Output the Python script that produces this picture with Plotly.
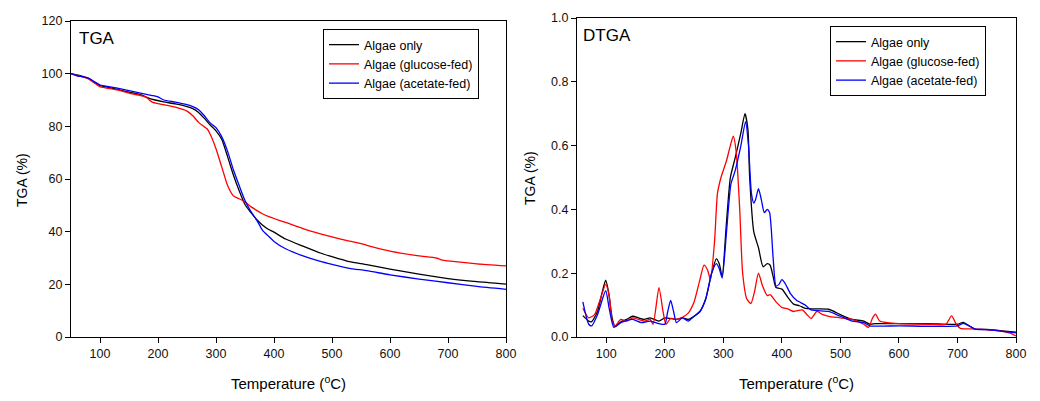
import plotly.graph_objects as go

# ---------------- TGA data ----------------
tga_T_black = [50, 60, 70, 80, 90, 100, 110, 130, 150, 170, 185, 195, 210, 230, 250, 260, 270, 280, 290, 300,
               310, 320, 330, 340, 350, 360, 370, 380, 390, 400, 420, 450, 480, 500, 530, 560, 600, 650, 700, 750, 800]
tga_black = [100, 99.5, 99, 98.2, 96.8, 95.5, 95, 94, 93, 92, 90.6, 90, 89.3, 88.5, 87.5, 86.7, 85.3, 83, 80.5, 78.3,
             75, 68.5, 61.5, 55.5, 50.3, 47.3, 44.6, 42.5, 40.9, 39.8, 37.2, 34.5, 31.9, 30.5, 28.6, 27.5, 25.8, 23.9, 22.2, 21, 20.1]

tga_T_red = [50, 60, 70, 80, 90, 100, 110, 130, 150, 170, 180, 185, 190, 200, 210, 230, 250, 260, 270, 280, 285, 290,
             300, 310, 320, 330, 340, 350, 360, 370, 380, 390, 400, 420, 450, 480, 500, 530, 550, 560, 600, 650, 680,
             690, 700, 750, 800]
tga_red = [100, 99.3, 98.8, 98, 96.5, 95, 94.6, 93.8, 92.6, 91.7, 91, 90, 89.2, 88.6, 88.2, 87.3, 85.8, 84, 81.5, 79.8, 79, 77,
           71.5, 64.5, 57.5, 53.6, 52.5, 51.3, 49.5, 48.1, 46.8, 45.8, 45, 43.5, 41.2, 39.2, 38, 36.4, 35.5, 34.8, 32.6, 30.8, 30,
           29.2, 28.9, 27.8, 27]

tga_T_blue = [50, 60, 70, 80, 90, 100, 110, 130, 150, 170, 190, 200, 210, 230, 250, 260, 270, 280, 290, 300,
              310, 320, 330, 340, 350, 360, 370, 380, 390, 400, 420, 450, 480, 500, 530, 560, 600, 650, 700, 750, 800]
tga_blue = [100, 99.2, 98.8, 98.3, 97, 95.7, 95.3, 94.5, 93.6, 92.6, 91.7, 91.2, 90, 89.2, 88.2, 87.5, 86.3, 84, 81.3, 79.5,
            76, 70.5, 63.5, 57.5, 51.8, 47.7, 44.5, 40.6, 38.4, 36.3, 33.5, 30.8, 28.7, 27.6, 26.1, 25.2, 23.6, 22, 20.6, 19.2, 18.1]

# ---------------- DTGA data ----------------
dtga_T_black = [60, 70, 75, 85, 93, 99, 104, 110, 115, 125, 135, 145, 155, 165, 175, 190, 200, 220, 230, 240, 250, 260,
                270, 280, 288, 293, 298, 305, 312, 320, 330, 337, 342, 345, 352, 360, 368, 375, 380, 385, 390, 400,
                410, 420, 430, 440, 450, 480, 500, 520, 540, 550, 560, 600, 650, 700, 710, 720, 730, 750, 800]
dtga_black = [0.067, 0.05, 0.048, 0.08, 0.14, 0.178, 0.14, 0.06, 0.033, 0.048, 0.055, 0.065, 0.06, 0.055, 0.06, 0.05, 0.06,
              0.055, 0.06, 0.055, 0.065, 0.08, 0.12, 0.2, 0.245, 0.23, 0.19, 0.35, 0.5, 0.56, 0.64, 0.7, 0.65, 0.5, 0.33,
              0.28, 0.22, 0.23, 0.225, 0.19, 0.155, 0.15, 0.125, 0.103, 0.098, 0.09, 0.088, 0.087, 0.07, 0.055, 0.05,
              0.04, 0.042, 0.042, 0.042, 0.04, 0.046, 0.035, 0.025, 0.024, 0.015]

dtga_T_red = [60, 70, 80, 90, 99, 105, 110, 115, 125, 135, 145, 155, 165, 175, 180, 190, 197, 202, 210, 220, 230, 240,
              250, 260, 267, 273, 278, 285, 290, 296, 305, 312, 317, 322, 328, 333, 340, 347, 353, 360, 367, 375, 380,
              390, 400, 410, 420, 435, 443, 450, 460, 470, 480, 500, 520, 540, 548, 555, 560, 567, 580, 600, 650, 680,
              690, 698, 705, 730, 770, 790, 800]
dtga_red = [0.09, 0.06, 0.07, 0.12, 0.165, 0.13, 0.05, 0.035, 0.055, 0.05, 0.06, 0.055, 0.05, 0.055, 0.04, 0.155, 0.08,
            0.04, 0.058, 0.055, 0.062, 0.075, 0.11, 0.18, 0.225, 0.21, 0.18, 0.3, 0.45, 0.5, 0.55, 0.6, 0.63, 0.58, 0.4,
            0.2, 0.12, 0.105, 0.14, 0.2, 0.16, 0.13, 0.133, 0.11, 0.093, 0.088, 0.08, 0.085, 0.07, 0.058, 0.08, 0.07,
            0.065, 0.06, 0.055, 0.04, 0.03, 0.06, 0.072, 0.05, 0.045, 0.042, 0.04, 0.04, 0.066, 0.04, 0.027, 0.025,
            0.02, 0.012, 0.003]

dtga_T_blue = [60, 70, 75, 85, 99, 105, 113, 125, 145, 160, 175, 190, 200, 205, 210, 215, 220, 230, 240, 250, 260, 270,
               280, 288, 293, 298, 305, 313, 320, 330, 338, 343, 348, 352, 355, 360, 365, 370, 375, 379, 385, 390, 395,
               400, 405, 415, 425, 440, 450, 480, 500, 520, 540, 550, 600, 700, 710, 720, 730, 750, 800]
dtga_blue = [0.11, 0.04, 0.035, 0.07, 0.145, 0.09, 0.03, 0.045, 0.055, 0.045, 0.05, 0.042, 0.04, 0.08, 0.115, 0.08, 0.045,
             0.06, 0.05, 0.065, 0.08, 0.12, 0.2, 0.23, 0.215, 0.185, 0.32, 0.48, 0.52, 0.6, 0.675, 0.6, 0.45, 0.42, 0.43,
             0.465, 0.43, 0.39, 0.4, 0.39, 0.25, 0.16, 0.165, 0.18, 0.17, 0.135, 0.115, 0.1, 0.085, 0.08, 0.065, 0.05,
             0.045, 0.035, 0.035, 0.035, 0.043, 0.035, 0.025, 0.023, 0.013]

names = ["Algae only", "Algae (glucose-fed)", "Algae (acetate-fed)"]
colors = ["#000000", "#ff0000", "#0000ff"]
x_ticks = [100, 200, 300, 400, 500, 600, 700, 800]
tga_ticks = [0, 20, 40, 60, 80, 100, 120]
dtga_ticks = [0, 0.2, 0.4, 0.6, 0.8, 1.0]

# page body has an 8px margin: figure sized so page fits the 1040x401 window exactly
OFF = 8
W, H = 1040 - 2 * OFF, 401 - 2 * OFF
FONT = "Liberation Sans, Arial, sans-serif"

fig = go.Figure()
tga_sets = [(tga_T_black, tga_black), (tga_T_red, tga_red), (tga_T_blue, tga_blue)]
dtga_sets = [(dtga_T_black, dtga_black), (dtga_T_red, dtga_red), (dtga_T_blue, dtga_blue)]

for (xs, ys), n, c in zip(tga_sets, names, colors):
    fig.add_trace(go.Scatter(x=xs, y=ys, mode="lines", name=n,
                             line=dict(color=c, width=1.3, shape="spline", smoothing=0.5),
                             xaxis="x", yaxis="y", legend="legend"))
for (xs, ys), n, c in zip(dtga_sets, names, colors):
    fig.add_trace(go.Scatter(x=xs, y=ys, mode="lines", name=n,
                             line=dict(color=c, width=1.3, shape="spline", smoothing=0.6),
                             xaxis="x2", yaxis="y2", legend="legend2"))


def px_x(p):
    return (p - OFF) / W


def px_y(p):
    return 1 - (p - OFF) / H


axis_common = dict(showline=True, linecolor="black", linewidth=1.2, mirror=True, ticks="outside", ticklen=5,
                   tickwidth=1, tickcolor="black", showgrid=False, zeroline=False, automargin=False,
                   tickfont=dict(family=FONT, size=12.5, color="#111111"))

legend_common = dict(xanchor="left", yanchor="top", bordercolor="black", borderwidth=1, bgcolor="white",
                     font=dict(family=FONT, size=12.5, color="black"), tracegroupgap=0, itemwidth=30)

fig.update_layout(
    template="none",
    width=W, height=H, margin=dict(l=0, r=0, t=0, b=0, pad=0, autoexpand=False),
    paper_bgcolor="white", plot_bgcolor="white",
    font=dict(family=FONT, color="black"),
    xaxis=dict(domain=[px_x(71), px_x(506)], range=[50, 800], tickvals=x_ticks, anchor="y", **axis_common),
    yaxis=dict(domain=[px_y(337), px_y(21)], range=[0, 120], tickvals=tga_ticks, anchor="x", **axis_common),
    xaxis2=dict(domain=[px_x(577), px_x(1016)], range=[50, 800], tickvals=x_ticks, anchor="y2", **axis_common),
    yaxis2=dict(domain=[px_y(337), px_y(18)], range=[0, 1.0], tickvals=dtga_ticks, tickformat=".1f",
                anchor="x2", **axis_common),
    legend=dict(x=px_x(323), y=px_y(29), **legend_common),
    legend2=dict(x=px_x(830), y=px_y(26), **legend_common),
    showlegend=True,
)

annos = [
    dict(text="TGA", x=px_x(77), y=px_y(38), xanchor="left", yanchor="middle", font=dict(size=17)),
    dict(text="DTGA", x=px_x(581), y=px_y(35), xanchor="left", yanchor="middle", font=dict(size=17)),
    dict(text="TGA (%)", x=px_x(22), y=px_y(180), xanchor="center", yanchor="middle", textangle=-90, font=dict(size=14)),
    dict(text="TGA (%)", x=px_x(530), y=px_y(178), xanchor="center", yanchor="middle", textangle=-90, font=dict(size=14)),
    dict(text="Temperature (<sup>o</sup>C)", x=px_x(288), y=px_y(382), xanchor="center", yanchor="middle",
         font=dict(size=15)),
    dict(text="Temperature (<sup>o</sup>C)", x=px_x(796), y=px_y(382), xanchor="center", yanchor="middle",
         font=dict(size=15)),
]
for a in annos:
    fig.add_annotation(xref="paper", yref="paper", showarrow=False, **a)

fig.write_html("out.html")
